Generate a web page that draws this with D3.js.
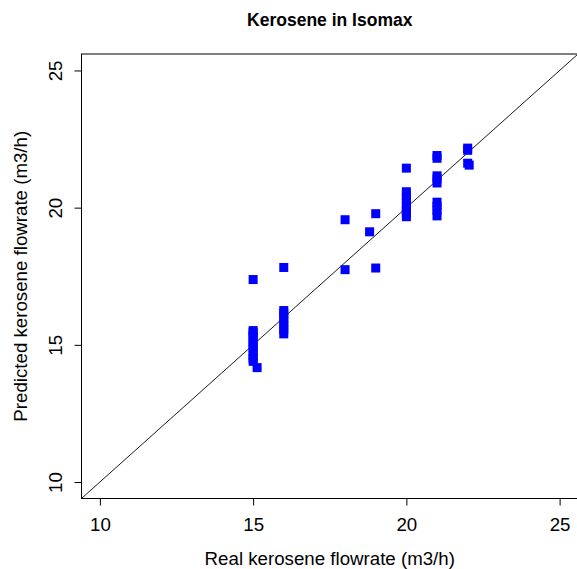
<!DOCTYPE html>
<html>
<head>
<meta charset="utf-8">
<script src="https://cdn.jsdelivr.net/npm/d3@7"></script>
<style>
  html, body { margin: 0; padding: 0; background: #fff; }
  svg { display: block; }
</style>
</head>
<body>
<svg id="chart" width="577" height="569"></svg>
<script>
// ---- Data ----
const realFlow = [
  15, 15, 15, 15, 15, 15, 15, 15, 15, 15, 15, 15, 15.13,
  16, 16, 16, 16, 16, 16, 16, 16,
  18, 18, 18.8, 19, 19,
  20, 20, 20, 20, 20, 20, 20, 20, 20,
  21, 21, 21, 21, 21, 21, 21, 21, 21,
  22, 22, 22, 22.05
];
const predictedFlow = [
  17.38, 15.52, 15.45, 15.35, 15.25, 15.1, 15.0, 14.9, 14.75, 14.6, 14.5, 14.4, 14.17,
  17.82, 16.25, 16.15, 16.0, 15.85, 15.7, 15.55, 15.4,
  19.56, 17.74, 19.12, 19.78, 17.8,
  21.44, 20.58, 20.45, 20.3, 20.15, 20.0, 19.9, 19.8, 19.67,
  21.9, 21.8, 21.16, 21.05, 20.9, 20.2, 20.05, 19.9, 19.7,
  22.17, 22.09, 21.62, 21.55
];
const xTicks = [10, 15, 20, 25];
const yTicks = [10, 15, 20, 25];
const axisDomain = [9.4, 25.6];
const titleText = "Kerosene in Isomax";
const xLabelText = "Real kerosene flowrate (m3/h)";
const yLabelText = "Predicted kerosene flowrate (m3/h)";

(function () {
// ---- Layout ----
const svg = d3.select("#chart");
const pLeft = 81.5, pRight = 578, pTop = 54, pBottom = 498.5;
const font = "'Liberation Sans', Arial, sans-serif";

const x = d3.scaleLinear().domain(axisDomain).range([pLeft, pRight]);
const y = d3.scaleLinear().domain(axisDomain).range([pBottom, pTop]);

const data = realFlow.map((v, i) => ({ x: v, y: predictedFlow[i] }));

svg.append("clipPath").attr("id", "clip")
  .append("rect").attr("x", pLeft).attr("y", pTop)
  .attr("width", pRight - pLeft).attr("height", pBottom - pTop);

// reference line y = x
svg.append("line")
  .attr("clip-path", "url(#clip)")
  .attr("x1", x(axisDomain[0])).attr("y1", y(axisDomain[0]))
  .attr("x2", x(axisDomain[1])).attr("y2", y(axisDomain[1]))
  .attr("stroke", "#000").attr("stroke-width", 0.9);

// points (filled squares)
const sz = 9;
svg.append("g").attr("clip-path", "url(#clip)")
  .selectAll("rect").data(data).join("rect")
  .attr("x", d => x(d.x) - sz / 2)
  .attr("y", d => y(d.y) - sz / 2)
  .attr("width", sz).attr("height", sz)
  .attr("fill", "#0000FF");

// box
svg.append("rect")
  .attr("x", pLeft).attr("y", pTop)
  .attr("width", pRight - pLeft).attr("height", pBottom - pTop)
  .attr("fill", "none").attr("stroke", "#000").attr("stroke-width", 1);

// x axis
const xAxis = d3.axisBottom(x).tickValues(xTicks).tickSize(7).tickPadding(10)
  .tickFormat(d3.format("d"));
const gx = svg.append("g").attr("transform", `translate(0,${pBottom})`).call(xAxis);
gx.select(".domain").remove();
gx.selectAll(".tick line").attr("stroke", "#000");
gx.selectAll(".tick text")
  .attr("font-family", font).attr("font-size", "18.7px").attr("fill", "#000")
  .attr("dy", null).attr("y", 32.5);

// y axis
const yAxis = d3.axisLeft(y).tickValues(yTicks).tickSize(7).tickFormat(d3.format("d"));
const gy = svg.append("g").attr("transform", `translate(${pLeft},0)`).call(yAxis);
gy.select(".domain").remove();
gy.selectAll(".tick line").attr("stroke", "#000");
gy.selectAll(".tick text")
  .attr("font-family", font).attr("font-size", "18.7px").attr("fill", "#000")
  .attr("x", null).attr("dy", null)
  .attr("text-anchor", "middle")
  .attr("transform", `translate(${61.7 - pLeft},0) rotate(-90)`);

// title
svg.append("text")
  .attr("x", (pLeft + pRight) / 2).attr("y", 26)
  .attr("text-anchor", "middle")
  .attr("font-family", font).attr("font-weight", "bold").attr("font-size", "17.5px")
  .attr("fill", "#000")
  .text(titleText);

// x label
svg.append("text")
  .attr("x", (pLeft + pRight) / 2).attr("y", 565)
  .attr("text-anchor", "middle")
  .attr("font-family", font).attr("font-size", "18.7px").attr("fill", "#000")
  .text(xLabelText);

// y label
svg.append("text")
  .attr("transform", `translate(27,${(pTop + pBottom) / 2}) rotate(-90)`)
  .attr("text-anchor", "middle")
  .attr("font-family", font).attr("font-size", "18.7px").attr("fill", "#000")
  .text(yLabelText);
})();
</script>
</body>
</html>
